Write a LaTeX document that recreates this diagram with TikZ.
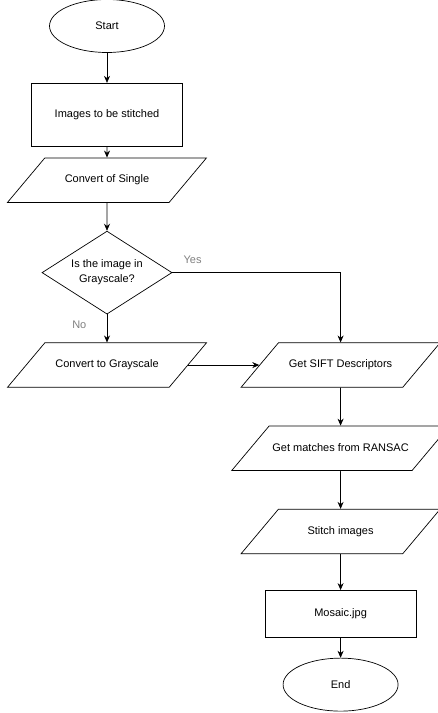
\documentclass[tikz,border=0pt]{standalone}
\usepackage{fontspec}
\setmainfont{Liberation Sans}
\usetikzlibrary{arrows.meta,positioning,shapes.geometric}
\tikzset{
    terms/.style={
           ellipse,
           draw=black, line width=0.7pt,
           minimum width=115pt,
           minimum height=53pt,
           inner sep=0pt,
           font=\fontsize{11}{13}\selectfont},
    procs/.style={
           rectangle,
           draw=black, line width=0.7pt,
           minimum width=151pt,
           minimum height=63pt,
           font=\fontsize{11}{13}\selectfont},
    ios/.style={
           trapezium,
           trapezium left angle=50,
           trapezium right angle=130,
           trapezium stretches body,
           draw=black, line width=0.7pt,
           text height=8pt, text depth=2.5pt,
           inner ysep=17pt,
           minimum width=199pt,
           font=\fontsize{11}{13}\selectfont},
    decs/.style={
           diamond,
           aspect=1.55,
           draw=black, line width=0.7pt,
           minimum width=130pt,
           minimum height=83pt,
           inner sep=0pt,
           align=center,
           font=\fontsize{11}{15}\selectfont},
    % Define arrow style
    flows/.style={
           -{Stealth[length=7pt,width=6pt]},
           line width=0.7pt},
    notes/.style={
           text=gray,
           font=\fontsize{11}{13}\selectfont}
}
\begin{document}
\begin{tikzpicture}
	\useasboundingbox (0,0) rectangle (437pt,-713pt);
	\node[terms] (start) at (107pt,-26pt) {Start};
	\node[procs, below=30pt of start] (imgs) {Images to be stitched};
	\node[ios, below=11pt of imgs] (single) {Convert of Single};
	\node[decs, below=28pt of single] (gray) {Is the image in\\Grayscale?};
	\node[ios, below=28pt of gray] (togray) {Convert to Grayscale};
	\node[ios, right=71pt of togray] (sift) {Get SIFT Descriptors};
	\node[ios, below=38pt of sift] (ransac) {Get matches from RANSAC};
	\node[ios, below=38pt of ransac] (stitch) {Stitch images};
	\node[procs, minimum height=47pt, below=36pt of stitch] (mosaic) {Mosaic.jpg};
	\node[terms, below=20pt of mosaic] (end) {End};

	\draw[flows] (start) -- (imgs);
	\draw[flows] (imgs) -- (single);
	\draw[flows] (single) -- (gray);
	\draw[flows] (gray.east) -| node[notes, pos=0.06, above=5pt] {Yes} (sift.north);
	\draw[flows] (gray.south) -- node[notes, pos=0.38, left=17pt] {No} (togray.north);
	\draw[flows] (togray.east) -- (sift.west);
	\draw[flows] (sift) -- (ransac);
	\draw[flows] (ransac) -- (stitch);
	\draw[flows] (stitch) -- (mosaic);
	\draw[flows] (mosaic) -- (end);
\end{tikzpicture}
\end{document}
